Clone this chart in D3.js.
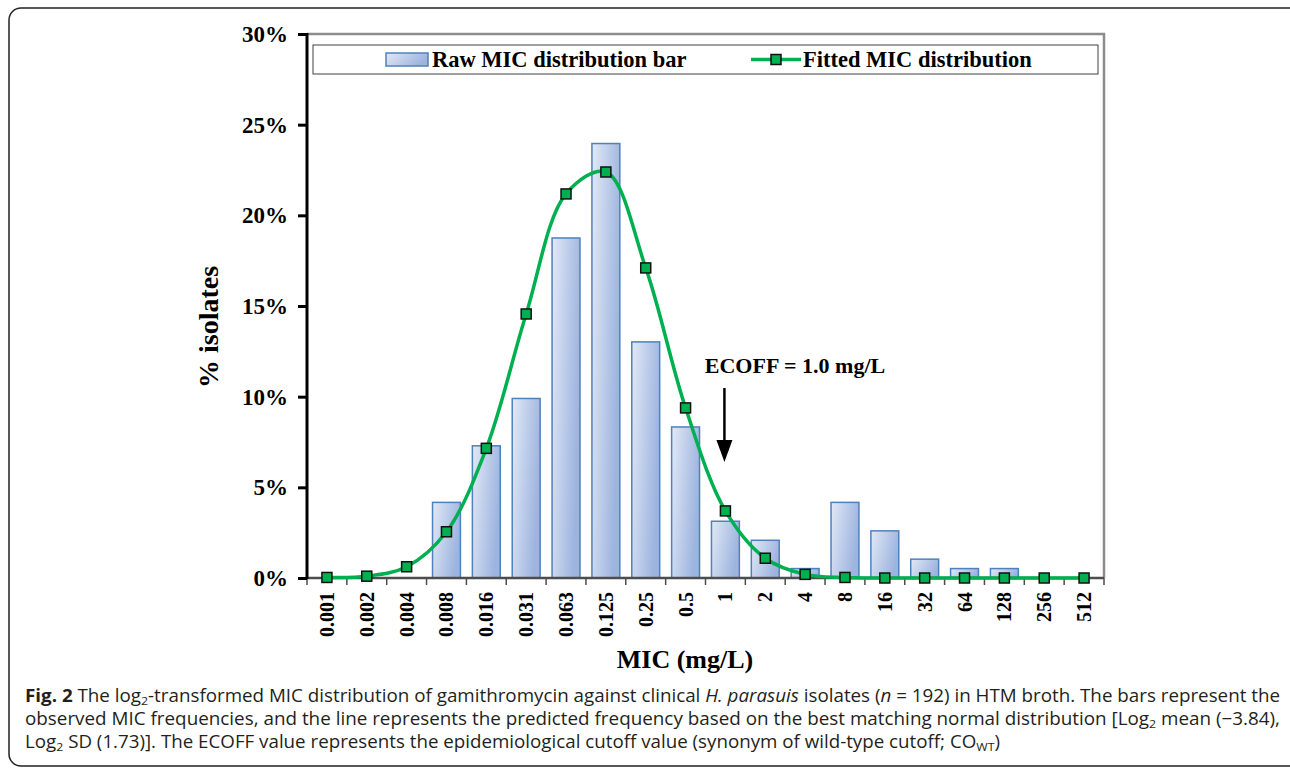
<!DOCTYPE html>
<html lang="en">
<head>
    <meta charset="UTF-8">
    <title>MIC distribution</title>
    <script src="https://d3js.org/d3.v7.min.js"></script>
    <style>
        body { margin: 0; background: #fff; }
        svg text { font-family: "Liberation Serif", "Times New Roman", serif; }
        svg .cap { font-family: "Open Sans", "Noto Sans", sans-serif; fill: #231f20; }
    </style>
</head>
<body>
    <div id="chart"></div>
    <script>
        // data
        const micLabels = ["0.001", "0.002", "0.004", "0.008", "0.016", "0.031", "0.063", "0.125", "0.25", "0.5",
            "1", "2", "4", "8", "16", "32", "64", "128", "256", "512"];
        const rawPct = [0, 0, 0, 4.17, 7.29, 9.90, 18.75, 23.96, 13.02, 8.33,
            3.13, 2.08, 0.52, 4.17, 2.60, 1.04, 0.52, 0.52, 0, 0];
        const fitPct = [0.03, 0.1, 0.62, 2.55, 7.15, 14.56, 21.18, 22.39, 17.1, 9.38,
            3.7, 1.09, 0.2, 0.03, 0, 0, 0, 0, 0, 0];
        const yTicks = [0, 5, 10, 15, 20, 25, 30];
        const ecoff = "1";

        const W = 1290, H = 770;
        const plot = { left: 307, right: 1104, top: 34, bottom: 578 };

        const svg = d3.select("#chart").append("svg")
            .attr("width", W)
            .attr("height", H);

        const defs = svg.append("defs");
        const grad = defs.append("linearGradient")
            .attr("id", "barGrad")
            .attr("x1", "0").attr("y1", "0")
            .attr("x2", "1").attr("y2", "0.35");
        grad.append("stop").attr("offset", "0%").attr("stop-color", "#e2e9f6");
        grad.append("stop").attr("offset", "100%").attr("stop-color", "#9db4df");

        // outer frame (rounded, cut off on the right)
        svg.append("rect")
            .attr("x", 9).attr("y", 8)
            .attr("width", 1300).attr("height", 758)
            .attr("rx", 12)
            .attr("fill", "none")
            .attr("stroke", "#222")
            .attr("stroke-width", 1.5);

        // scales
        const x = d3.scaleBand()
            .domain(micLabels)
            .range([plot.left, plot.right])
            .padding(0);
        const y = d3.scaleLinear()
            .domain([0, 30])
            .range([plot.bottom, plot.top]);
        const cx = d => x(d) + x.bandwidth() / 2;
        const barW = x.bandwidth() * 0.7;

        // plot frame top / right
        svg.append("path")
            .attr("d", `M${plot.left},${plot.top}H${plot.right}V${plot.bottom}`)
            .attr("fill", "none")
            .attr("stroke", "#8c8c8c")
            .attr("stroke-width", 2.5);

        // legend
        const leg = svg.append("g");
        leg.append("rect")
            .attr("x", 313).attr("y", 45)
            .attr("width", 785).attr("height", 29)
            .attr("fill", "#fff")
            .attr("stroke", "#404040")
            .attr("stroke-width", 1);
        leg.append("rect")
            .attr("x", 386).attr("y", 53)
            .attr("width", 42).attr("height", 13)
            .attr("fill", "url(#barGrad)")
            .attr("stroke", "#4f81bd")
            .attr("stroke-width", 1.5);
        leg.append("text")
            .attr("x", 432).attr("y", 67)
            .attr("font-size", 22.5).attr("font-weight", "bold")
            .text("Raw MIC distribution bar");
        leg.append("line")
            .attr("x1", 751).attr("x2", 801)
            .attr("y1", 59.5).attr("y2", 59.5)
            .attr("stroke", "#00b050")
            .attr("stroke-width", 3.5);
        leg.append("rect")
            .attr("x", 771).attr("y", 54.5)
            .attr("width", 10).attr("height", 10)
            .attr("fill", "#00b050")
            .attr("stroke", "#111")
            .attr("stroke-width", 1.5);
        leg.append("text")
            .attr("x", 803).attr("y", 67)
            .attr("font-size", 22.5).attr("font-weight", "bold")
            .text("Fitted MIC distribution");

        // bars
        svg.append("g")
            .selectAll("rect")
            .data(micLabels.map((m, i) => ({ m, v: rawPct[i] })).filter(d => d.v > 0))
            .join("rect")
            .attr("x", d => cx(d.m) - barW / 2)
            .attr("y", d => y(d.v))
            .attr("width", barW)
            .attr("height", d => y(0) - y(d.v))
            .attr("fill", "url(#barGrad)")
            .attr("stroke", "#4f81bd")
            .attr("stroke-width", 1.5);

        // x axis
        svg.append("line")
            .attr("x1", plot.left).attr("x2", plot.right)
            .attr("y1", plot.bottom).attr("y2", plot.bottom)
            .attr("stroke", "#4d4d4d")
            .attr("stroke-width", 2.5);
        svg.append("g")
            .selectAll("line")
            .data(d3.range(micLabels.length + 1))
            .join("line")
            .attr("x1", i => plot.left + i * x.step())
            .attr("x2", i => plot.left + i * x.step())
            .attr("y1", plot.bottom)
            .attr("y2", plot.bottom + 7)
            .attr("stroke", "#4d4d4d")
            .attr("stroke-width", 1.5);
        svg.append("g")
            .selectAll("text")
            .data(micLabels)
            .join("text")
            .attr("transform", d => `translate(${cx(d)},${plot.bottom + 14}) rotate(-90)`)
            .attr("text-anchor", "end")
            .attr("dy", "0.35em")
            .attr("font-size", 20)
            .attr("font-weight", "bold")
            .text(d => d);

        // y axis
        const yAxis = svg.append("g")
            .attr("transform", `translate(${plot.left},0)`)
            .call(d3.axisLeft(y).tickValues(yTicks).tickSize(9).tickPadding(10).tickFormat(d => d + "%"));
        yAxis.select(".domain")
            .attr("stroke", "#000")
            .attr("stroke-width", 3)
            .attr("d", `M0,${plot.top - 1}V${plot.bottom + 1}`);
        yAxis.selectAll(".tick line")
            .attr("stroke", "#000")
            .attr("stroke-width", 3);
        yAxis.selectAll(".tick text")
            .attr("font-family", "Liberation Serif, Times New Roman, serif")
            .attr("font-size", 23)
            .attr("font-weight", "bold")
            .attr("fill", "#000");

        // axis titles
        svg.append("text")
            .attr("transform", "translate(218,327) rotate(-90)")
            .attr("text-anchor", "middle")
            .attr("font-size", 28)
            .attr("font-weight", "bold")
            .text("% isolates");
        svg.append("text")
            .attr("x", 685).attr("y", 668)
            .attr("text-anchor", "middle")
            .attr("font-size", 26)
            .attr("font-weight", "bold")
            .text("MIC (mg/L)");

        // fitted line
        const line = d3.line()
            .x((d, i) => cx(micLabels[i]))
            .y(d => y(d))
            .curve(d3.curveCatmullRom.alpha(0.5));
        svg.append("path")
            .datum(fitPct)
            .attr("d", line)
            .attr("fill", "none")
            .attr("stroke", "#00b050")
            .attr("stroke-width", 3.5);
        svg.append("g")
            .selectAll("rect")
            .data(fitPct)
            .join("rect")
            .attr("x", (d, i) => cx(micLabels[i]) - 5)
            .attr("y", d => y(d) - 5)
            .attr("width", 10)
            .attr("height", 10)
            .attr("fill", "#00b050")
            .attr("stroke", "#111")
            .attr("stroke-width", 1.5);

        // ECOFF annotation
        const ax = cx(ecoff) - 1;
        svg.append("text")
            .attr("x", 795).attr("y", 373)
            .attr("text-anchor", "middle")
            .attr("font-size", 22)
            .attr("font-weight", "bold")
            .text("ECOFF = 1.0 mg/L");
        svg.append("line")
            .attr("x1", ax).attr("x2", ax)
            .attr("y1", 388).attr("y2", 442)
            .attr("stroke", "#000")
            .attr("stroke-width", 2.5);
        svg.append("path")
            .attr("d", `M${ax - 8},440L${ax + 8},440L${ax},462Z`)
            .attr("fill", "#000");

        // caption
        const capLines = [
            { y: 702, len: 1255, parts: [["Fig. 2", "b"], [" The log"], ["2", "sub"], ["-transformed MIC distribution of gamithromycin against clinical "], ["H. parasuis", "i"], [" isolates ("], ["n", "i"], [" = 192) in HTM broth. The bars represent the"]] },
            { y: 725, len: 1255, parts: [["observed MIC frequencies, and the line represents the predicted frequency based on the best matching normal distribution [Log"], ["2", "sub"], [" mean (\u22123.84),"]] },
            { y: 748, len: 975, parts: [["Log"], ["2", "sub"], [" SD (1.73)]. The ECOFF value represents the epidemiological cutoff value (synonym of wild-type cutoff; CO"], ["WT", "sub"], [")"]] }
        ];
        capLines.forEach(l => {
            const t = svg.append("text")
                .attr("class", "cap")
                .attr("x", 25).attr("y", l.y)
                .attr("font-size", 17.5)
                .attr("textLength", l.len)
                .attr("lengthAdjust", "spacingAndGlyphs");
            let shifted = false;
            l.parts.forEach(([s, k]) => {
                const ts = t.append("tspan").text(s);
                if (k === "b") ts.attr("font-weight", "bold");
                if (k === "i") ts.attr("font-style", "italic");
                if (k === "sub") {
                    ts.attr("font-size", 11.5).attr("dy", 3);
                    shifted = true;
                } else if (shifted) {
                    ts.attr("dy", -3);
                    shifted = false;
                }
            });
        });
    </script>
</body>
</html>
